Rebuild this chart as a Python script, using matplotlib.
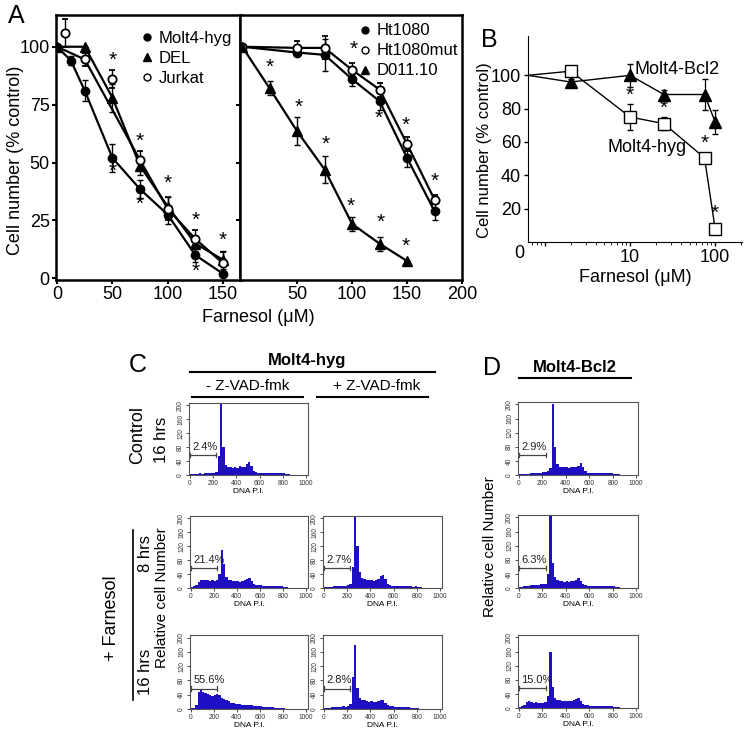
import numpy as np
import matplotlib.pyplot as plt
from matplotlib.lines import Line2D

plt.rcParams['font.family'] = ['Liberation Sans', 'DejaVu Sans']

W, H = 751, 737
BLUE = '#1e10c2'

# ---- panel A, left: leukemia lines
conc_a = [0, 12.5, 25, 50, 75, 100, 125, 150]
molt4_hyg = [100, 94, 81, 52, 38.5, 27.5, 10, 2]
molt4_hyg_err = [0, 2, 4.5, 6, 4, 4, 3, 0]
del_x = [0, 25, 50, 75, 100, 125, 150]
del_y = [100, 100, 78, 48.5, 31, 15, 8]
del_err = [0, 0, 6, 4, 4, 3, 4]
jurkat_x = [7, 25, 50, 75, 100, 125, 150]
jurkat_y = [106, 94.5, 86, 51, 30, 17, 6.5]
jurkat_err = [6, 3, 4, 4, 5, 4, 5]
jurkat_line_x = [0, 25, 75, 100, 125, 150]
jurkat_line_y = [100, 94.5, 51, 30, 17, 6.5]
stars_a1_x = [50, 50, 75, 75, 100, 125, 125, 150]
stars_a1_y = [94, 46, 59, 32, 41, 25, 3, 16.5]

# ---- panel A, right: other lines
conc_b = [0, 50, 75, 100, 125, 150, 175]
ht1080 = [100, 97.5, 96.5, 86, 76.5, 52, 29]
ht1080_err = [0, 1, 7, 3, 4, 4, 4]
ht1080mut = [100, 99.5, 99.5, 90, 81.5, 58, 34]
ht1080mut_err = [0, 3, 5, 3, 3, 3, 2]
d011_x = [0, 25, 50, 75, 100, 125, 150]
d011 = [100, 82, 63.5, 47, 23.5, 15, 7.5]
d011_err = [0, 3, 6, 6, 3, 3, 0]
stars_a2_x = [25, 51, 76, 99, 126, 149, 101, 124, 149, 175]
stars_a2_y = [91, 74, 58, 31, 24, 14, 99, 69, 66, 42]

# ---- panel B
fb_conc = [0, 2, 10, 25, 75, 100]
fb_hyg = [100, 102.5, 75, 71, 50.5, 8]
fb_hyg_err = [0, 1, 8, 4, 3, 3]
fb_bcl2 = [100, 96, 100, 88.5, 88.5, 72]
fb_bcl2_err = [0, 2, 7, 3, 9, 7]
stars_b_x = [10, 25, 75, 100]
stars_b_y = [88, 80, 59, 17]

# ---- panels C/D: DNA histograms, 20-unit bins from 0 to 900
hist_c1 = [2, 3, 4, 4, 5, 4, 5, 5, 6, 6, 7, 10, 55, 205, 80, 30, 24, 22, 20, 22,
           21, 26, 22, 24, 32, 36, 26, 12, 8, 7, 6, 6, 7, 6, 5, 6, 6, 5, 6, 7,
           5, 3, 2, 1, 1]
hist_c2 = [3, 5, 8, 18, 22, 24, 22, 23, 21, 22, 20, 24, 40, 110, 70, 32, 24, 22, 20, 19,
           20, 18, 20, 22, 26, 28, 20, 12, 9, 8, 8, 7, 7, 6, 7, 6, 6, 7, 5, 6,
           4, 2, 1, 1, 0]
hist_c3 = [2, 3, 4, 4, 5, 5, 6, 5, 6, 7, 8, 12, 60, 210, 120, 45, 30, 25, 24, 22,
           24, 20, 22, 25, 34, 38, 25, 12, 8, 7, 6, 6, 6, 5, 5, 6, 5, 5, 4, 5,
           3, 2, 1, 1, 0]
hist_c4 = [2, 4, 10, 48, 52, 47, 45, 42, 38, 35, 38, 42, 40, 32, 28, 25, 22, 18, 16, 15,
           14, 13, 12, 12, 11, 11, 10, 9, 8, 7, 7, 6, 6, 5, 5, 5, 4, 4, 4, 3,
           2, 1, 1, 0, 0]
hist_c5 = [2, 3, 4, 5, 6, 5, 6, 6, 7, 6, 8, 15, 90, 180, 60, 32, 26, 24, 22, 20,
           22, 20, 19, 22, 26, 24, 16, 10, 8, 7, 6, 6, 6, 5, 5, 5, 5, 4, 4, 4,
           2, 1, 1, 0, 0]
hist_d1 = [2, 3, 3, 4, 4, 5, 5, 6, 6, 7, 8, 8, 10, 20, 200, 80, 30, 24, 22, 24,
           22, 20, 22, 22, 24, 26, 35, 22, 10, 7, 6, 6, 5, 5, 6, 5, 5, 6, 5, 6,
           4, 3, 2, 1, 0]
hist_d2 = [3, 4, 5, 6, 7, 8, 8, 9, 9, 10, 10, 12, 40, 205, 70, 30, 24, 20, 20, 18,
           20, 18, 19, 20, 24, 28, 20, 10, 8, 7, 7, 6, 6, 6, 7, 6, 6, 5, 5, 6,
           5, 3, 2, 1, 0]
hist_d3 = [3, 5, 8, 16, 20, 18, 15, 16, 15, 14, 15, 17, 35, 158, 60, 28, 24, 22, 21, 20,
           20, 19, 20, 22, 26, 28, 20, 12, 9, 8, 7, 7, 6, 6, 6, 6, 5, 5, 5, 5,
           4, 3, 2, 1, 0]
sub_g1_pct = ['2.4%', '21.4%', '2.7%', '55.6%', '2.8%', '2.9%', '6.3%', '15.0%']


def px_box(x0, y0, x1, y1):
    return [x0 / W, 1 - y1 / H, (x1 - x0) / W, (y1 - y0) / H]


def ftext(x, y, s, **kw):
    fig.text(x / W, 1 - y / H, s, **kw)


def fline(xs, ys, lw=1.5):
    fig.add_artist(Line2D([x / W for x in xs], [1 - y / H for y in ys],
                          color='black', lw=lw, transform=fig.transFigure))


def stars(ax, xs, ys, size=15):
    for x, y in zip(xs, ys):
        ax.text(x, y, '*', ha='center', va='center', fontsize=size)


fig = plt.figure(figsize=(W / 100, H / 100), dpi=100)
fig.patch.set_facecolor('white')

# ================= panel A =================
axl = fig.add_axes(px_box(56, 15, 240, 280))
axr = fig.add_axes(px_box(240, 15, 462, 280))
for ax in (axl, axr):
    for sp in ax.spines.values():
        sp.set_linewidth(1.8)
    ax.set_ylim(-0.7, 113.7)
    ax.tick_params(labelsize=13, width=1.5, length=3, pad=1.5)

ekw = dict(color='black', lw=1.6, capsize=2.5, elinewidth=1, capthick=1)
axl.plot(conc_a, molt4_hyg, color='black', lw=1.6)
axl.plot(del_x, del_y, color='black', lw=1.6)
axl.plot(jurkat_line_x, jurkat_line_y, color='black', lw=1.6)
axl.errorbar(conc_a, molt4_hyg, yerr=molt4_hyg_err, fmt='o', ms=6, mfc='black', **ekw)
axl.errorbar(del_x, del_y, yerr=del_err, fmt='^', ms=7, mfc='black', **ekw)
axl.errorbar(jurkat_x, jurkat_y, yerr=jurkat_err, fmt='o', ms=6, mfc='white', mew=1.3, **ekw)
stars(axl, stars_a1_x, stars_a1_y)
axl.set_xlim(-1, 165.3)
axl.set_xticks([0, 50, 100, 150])
axl.set_yticks([0, 25, 50, 75, 100])

axl.legend(handles=[
    Line2D([], [], marker='o', color='black', ls='none', ms=5),
    Line2D([], [], marker='^', color='black', ls='none', ms=6),
    Line2D([], [], marker='o', color='black', mfc='white', ls='none', ms=5)],
    labels=['Molt4-hyg', 'DEL', 'Jurkat'], loc='upper right', frameon=False,
    fontsize=12, handlelength=0.6, handletextpad=0.4, labelspacing=0.3,
    borderaxespad=0.1, bbox_to_anchor=(1.0, 0.97))

axr.plot(conc_b, ht1080, color='black', lw=1.6)
axr.plot(conc_b, ht1080mut, color='black', lw=1.6)
axr.plot(d011_x, d011, color='black', lw=1.6)
axr.errorbar(conc_b, ht1080, yerr=ht1080_err, fmt='o', ms=6, mfc='black', **ekw)
axr.errorbar(conc_b, ht1080mut, yerr=ht1080mut_err, fmt='o', ms=6, mfc='white', mew=1.3, **ekw)
axr.errorbar(d011_x, d011, yerr=d011_err, fmt='^', ms=7, mfc='black', **ekw)
stars(axr, stars_a2_x, stars_a2_y)
axr.set_xlim(-2, 200)
axr.set_xticks([50, 100, 150, 200])
axr.set_yticks([25, 50, 75])
axr.tick_params(axis='y', labelleft=False, length=3)
axr.legend(handles=[
    Line2D([], [], marker='o', color='black', ls='none', ms=5),
    Line2D([], [], marker='o', color='black', mfc='white', ls='none', ms=5),
    Line2D([], [], marker='^', color='black', ls='none', ms=6)],
    labels=['Ht1080', 'Ht1080mut', 'D011.10'], loc='upper right', frameon=False,
    fontsize=12, handlelength=0.6, handletextpad=0.4, labelspacing=0.3,
    borderaxespad=0.1, bbox_to_anchor=(1.02, 1.0))
ftext(16, 160, 'Cell number (% control)', fontsize=13, rotation=90, ha='center', va='center')
ftext(258, 318, 'Farnesol (\u03bcM)', fontsize=13, ha='center', va='center')
ftext(16, 16, 'A', fontsize=18, ha='center', va='center')

# ================= panel B =================
axb = fig.add_axes(px_box(528, 36, 742, 242))
XMIN = 0.63
bx = np.where(np.array(fb_conc) == 0, XMIN, fb_conc)
axb.set_xscale('log')
axb.plot(bx, fb_bcl2, color='black', lw=1)
axb.errorbar(bx[1:], fb_bcl2[1:], yerr=fb_bcl2_err[1:], fmt='^', ms=9, mfc='black',
             color='black', elinewidth=0.9, capsize=2.5)
axb.plot(bx, fb_hyg, color='black', lw=1)
axb.errorbar(bx[1:], fb_hyg[1:], yerr=fb_hyg_err[1:], fmt='s', ms=9, mfc='white', mew=1,
             color='black', elinewidth=0.9, capsize=2.5)
stars(axb, stars_b_x, stars_b_y)
axb.set_xlim(XMIN, 207)
axb.set_ylim(0, 123.6)
axb.set_xticks([1, 10, 100])
axb.set_xticklabels(['', '10', '100'])
axb.set_yticks([20, 40, 60, 80, 100])
axb.spines['top'].set_visible(False)
axb.spines['right'].set_visible(False)
axb.tick_params(labelsize=13, width=1, length=3, pad=2)
axb.tick_params(which='minor', length=2)
axb.set_xlabel('Farnesol (\u03bcM)', fontsize=13, labelpad=2)
ftext(484, 150, 'Cell number (% control)', fontsize=12, rotation=90, ha='center', va='center')
ftext(677, 70, 'Molt4-Bcl2', fontsize=13, ha='center', va='center')
ftext(647, 148, 'Molt4-hyg', fontsize=13, ha='center', va='center')
ftext(519, 254, '0', fontsize=13, ha='center', va='center')
ftext(489, 40, 'B', fontsize=18, ha='center', va='center')

# ================= panels C / D =================
edges = np.arange(0, 901, 20)


def histo(box, counts, pct):
    ax = fig.add_axes(px_box(*box))
    ax.stairs(counts, edges, fill=True, color=BLUE, lw=0)
    ax.set_xlim(-5, 1015)
    ax.set_ylim(0, 207)
    ax.set_xticks(range(0, 1001, 200))
    ax.set_yticks(range(0, 201, 40))
    ax.tick_params(labelsize=4.8, length=2, width=0.6, pad=1.5, colors='#333333')
    plt.setp(ax.get_yticklabels(), rotation=90, va='center')
    for sp in ax.spines.values():
        sp.set_color('#555555')
        sp.set_linewidth(0.8)
    ax.set_xlabel('DNA P.I.', fontsize=6, labelpad=1)
    ax.plot([0, 230], [57, 57], color='#444444', lw=0.9)
    ax.plot([0, 0], [51, 63], color='#444444', lw=0.9)
    ax.plot([230, 230], [51, 63], color='#444444', lw=0.9)
    ax.text(25, 66, pct, fontsize=8, ha='left', va='bottom', color='#222222')
    return ax


histo((189, 403, 308, 475), hist_c1, sub_g1_pct[0])
histo((190, 516, 308, 588), hist_c2, sub_g1_pct[1])
histo((323, 516, 442, 588), hist_c3, sub_g1_pct[2])
histo((190, 635, 308, 709), hist_c4, sub_g1_pct[3])
histo((323, 635, 442, 709), hist_c5, sub_g1_pct[4])
histo((518, 402, 638, 475), hist_d1, sub_g1_pct[5])
histo((518, 515, 638, 588), hist_d2, sub_g1_pct[6])
histo((518, 635, 638, 708), hist_d3, sub_g1_pct[7])

ftext(138, 365, 'C', fontsize=18, ha='center', va='center')
ftext(307, 361, 'Molt4-hyg', fontsize=12, fontweight='bold', ha='center', va='center')
fline([190, 435], [372, 372])
ftext(248, 386, '- Z-VAD-fmk', fontsize=11, ha='center', va='center')
fline([192, 303], [397, 397])
ftext(377, 386, '+ Z-VAD-fmk', fontsize=11, ha='center', va='center')
fline([317, 428], [397, 397])
ftext(138, 435, 'Control', fontsize=13, rotation=90, ha='center', va='center')
ftext(162, 440, '16 hrs', fontsize=12, rotation=90, ha='center', va='center')
ftext(145, 553, '8 hrs', fontsize=12, rotation=90, ha='center', va='center')
ftext(145, 672, '16 hrs', fontsize=12, rotation=90, ha='center', va='center')
fline([133, 133], [530, 700], lw=1.2)
ftext(112, 618, '+ Farnesol', fontsize=13, rotation=90, ha='center', va='center')
ftext(162, 598, 'Relative cell Number', fontsize=11, rotation=90, ha='center', va='center')

ftext(492, 368, 'D', fontsize=18, ha='center', va='center')
ftext(575, 367, 'Molt4-Bcl2', fontsize=12, fontweight='bold', ha='center', va='center')
fline([519, 631], [378, 378])
ftext(490, 547, 'Relative cell Number', fontsize=11, rotation=90, ha='center', va='center')

fig.savefig('out.png', dpi=100)
